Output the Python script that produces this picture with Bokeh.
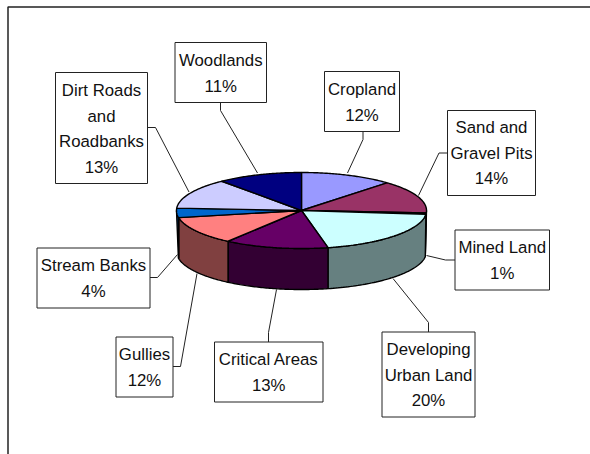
import numpy as np
from bokeh.plotting import figure
from bokeh.models import Range1d
from bokeh.core.properties import value
from bokeh.embed import file_html
from bokeh.resources import INLINE

# ---- data ----
categories = ["Cropland", "Sand and Gravel Pits", "Mined Land", "Developing Urban Land",
              "Critical Areas", "Gullies", "Stream Banks", "Dirt Roads and Roadbanks", "Woodlands"]
values = [12, 14, 0.6, 20, 13.4, 12, 4, 13, 11]
top_colors = ["#9999FF", "#993366", "#FFFFCC", "#CCFFFF", "#660066", "#FF8080", "#0066CC", "#CCCCFF", "#000080"]
side_colors = ["#4D4D80", "#4D1933", "#808066", "#668080", "#330033", "#804040", "#003366", "#666680", "#000040"]
label_lines = [["Cropland"], ["Sand and", "Gravel Pits"], ["Mined Land"], ["Developing", "Urban Land"],
               ["Critical Areas"], ["Gullies"], ["Stream Banks"], ["Dirt Roads", "and", "Roadbanks"], ["Woodlands"]]

# ---- layout (page pixels) ----
W, H = 590, 454
CX, CY, RX, RY, DEPTH = 301, 210, 125, 38, 41
RIM_START, RIM_END = np.radians(98), np.radians(260)
boxes = [(324, 399, 71, 131), (447, 535, 110, 195), (454.5, 549, 229.5, 289.5), (381.5, 474.5, 331.5, 416.5),
         (214, 322.5, 341.5, 401.5), (115.5, 172.5, 336.5, 396.5), (36.5, 149.5, 247.5, 307.5),
         (55, 147, 72, 183), (174.5, 266, 42, 102)]
first_line_y = [89, 127, 247, 349, 359, 354, 265, 90, 60]
LINE_STEP = 25.5
leaders = [([362.5, 362.5, 347], [131, 139, 172.5]),
           ([447, 438.5, 418], [152.5, 152.5, 195]),
           ([454.5, 445, 426], [259.5, 259.5, 255]),
           ([428, 428, 392.5], [331.5, 322, 278]),
           ([268, 268, 276], [341.5, 332, 289]),
           ([172.5, 180, 196.5], [366, 366, 273]),
           ([149.5, 157, 177], [277, 277, 254]),
           ([147, 155, 188.5], [127, 127, 191.5]),
           ([220, 220, 257], [102, 110, 172.5])]
FONT = "Liberation Sans"
FONT_SIZE = "16.8px"

p = figure(width=W, height=H, x_range=Range1d(0, W), y_range=Range1d(H, 0),
           output_backend="svg", toolbar_location=None, min_border=0,
           x_axis_type=None, y_axis_type=None, outline_line_color=None)
p.grid.visible = False
p.styles = {"position": "absolute", "left": "0px", "top": "0px"}

# page frame: left and top edges only
p.line([7.5, 7.5, W], [H, 6.5, 6.5], line_color="#222222", line_width=1.5)


def ex(a):
    return CX + RX * np.sin(a)


def ey(a):
    return CY - RY * np.cos(a)


edges = np.cumsum([0] + values) / sum(values) * 2 * np.pi

# side walls (front half of the disc only)
for i in range(len(values)):
    a0, a1 = max(edges[i], np.pi / 2), min(edges[i + 1], 3 * np.pi / 2)
    if a1 <= a0:
        continue
    t = np.linspace(a0, a1, 60)
    tb = np.clip(t, RIM_START, RIM_END)
    xs = np.r_[ex(t), ex(tb)[::-1]]
    ys = np.r_[ey(t), ey(tb)[::-1] + DEPTH]
    p.patch(xs, ys, fill_color=side_colors[i], line_color="black", line_width=1.4)

# top wedges
for i in range(len(values)):
    t = np.linspace(edges[i], edges[i + 1], 60)
    xs = np.r_[CX, ex(t)]
    ys = np.r_[CY, ey(t)]
    p.patch(xs, ys, fill_color=top_colors[i], line_color="black", line_width=1.4)

# leader lines, boxes, labels
for (lx, ly) in leaders:
    p.line(lx, ly, line_color="#222222", line_width=1)
for i, (x0, x1, y0, y1) in enumerate(boxes):
    p.quad(left=[x0], right=[x1], top=[y0], bottom=[y1], fill_color="white",
           line_color="#222222", line_width=1)
    lines = label_lines[i] + [f"{round(values[i])}%"]
    xc = (x0 + x1) / 2
    p.text([xc] * len(lines), [first_line_y[i] + k * LINE_STEP for k in range(len(lines))], text=lines,
           text_font=value(FONT), text_font_size=value(FONT_SIZE), text_color="#111111",
           text_align="center", text_baseline="middle")

open("out.html", "w").write(file_html(p, INLINE))
